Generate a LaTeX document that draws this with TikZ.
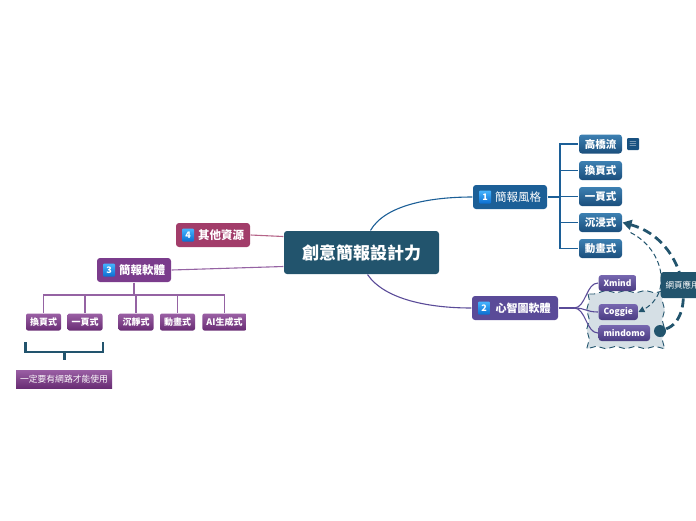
\documentclass[tikz,border=0pt]{standalone}
\usepackage{fontspec}
\setmainfont{Noto Sans CJK TC}
\usetikzlibrary{positioning,arrows.meta,decorations.pathmorphing}
\definecolor{rootc}{HTML}{22546D}
\definecolor{bluec}{HTML}{1C5F97}
\definecolor{bluel}{HTML}{3D80B2}
\definecolor{blued}{HTML}{1A4E7C}
\definecolor{violc}{HTML}{5A4B98}
\definecolor{violl}{HTML}{7767B0}
\definecolor{viold}{HTML}{4A3C82}
\definecolor{plumc}{HTML}{7B3C8C}
\definecolor{pluml}{HTML}{9A5FA4}
\definecolor{plumd}{HTML}{692D74}
\definecolor{rosec}{HTML}{A23D6A}
\definecolor{badgel}{HTML}{45B4FF}
\definecolor{badged}{HTML}{0B6ED0}
\definecolor{cloudc}{HTML}{D5DFE5}
\tikzset{
  box/.style={rounded corners=3pt,inner sep=0pt,text=white,align=center},
  rootbox/.style={box,fill=rootc,minimum width=155,minimum height=43,font=\bfseries\fontsize{17}{17}\selectfont},
  mainbox/.style={box,inner xsep=6pt,minimum height=24,font=\bfseries\fontsize{11.5}{11.5}\selectfont},
  kidblue/.style={box,top color=bluel,bottom color=blued,minimum width=43,minimum height=19,font=\bfseries\fontsize{10.5}{10.5}\selectfont},
  kidviol/.style={box,anchor=west,inner xsep=5pt,top color=violl,bottom color=viold,minimum height=16,font=\bfseries\fontsize{8.5}{8.5}\selectfont},
  kidplum/.style={box,rounded corners=2pt,inner xsep=4pt,top color=pluml,bottom color=plumd,minimum height=17,font=\bfseries\fontsize{9}{9}\selectfont},
  badge/.style={box,rounded corners=1pt,top color=badgel,bottom color=badged,minimum width=12,minimum height=13,font=\bfseries\fontsize{9}{9}\selectfont},
  rel/.style={rootc,dash pattern=on 9pt off 5pt,line width=2.8pt,-{Triangle[length=9pt,width=10pt]}},
  relthin/.style={rootc,dash pattern=on 5pt off 3pt,line width=1pt,-{Triangle[length=6pt,width=6pt]}},
}
\begin{document}
\begin{tikzpicture}[x=1pt,y=-1pt,line width=1.1pt]
\clip (0,0) rectangle (696,520);
% cloud round the online tools
\path[decorate,decoration={snake,amplitude=1.3pt,segment length=19.5pt},fill=cloudc,draw=rootc,dash pattern=on 6pt off 4pt,line width=0.9pt] (588,294) rectangle (666,347);
\node[rootbox] (center) at (361.5,252.5) {創意簡報設計力};
\node[mainbox,fill=bluec,font=\fontsize{11.5}{11.5}\selectfont] (style1) at (510,197) {\hspace*{16pt}簡報風格};
\node[mainbox,fill=violc,inner xsep=7.5pt,font=\bfseries\fontsize{11}{11}\selectfont] (mind) at (515,308) {\hspace*{16pt}心智圖軟體};
\node[mainbox,fill=plumc] (soft) at (134,270) {\hspace*{16pt}簡報軟體};
\node[mainbox,fill=rosec] (res) at (213,235) {\hspace*{16pt}其他資源};
\node[badge,right=6pt of style1.west] (b1) {1};
\node[badge,right=6pt of mind.west] (b2) {2};
\node[badge,right=6pt of soft.west] (b3) {3};
\node[badge,right=6pt of res.west] (b4) {4};
\node[kidblue] (k1) at (600.5,144) {高橋流};
\node[kidblue] (k2) at (600.5,170.5) {換頁式};
\node[kidblue] (k3) at (600.5,196.5) {一頁式};
\node[kidblue] (k4) at (600.5,222.5) {沉浸式};
\node[kidblue] (k5) at (600.5,248.5) {動畫式};
\node[box,rounded corners=1pt,fill=bluec!85!black,minimum size=12,right=4pt of k1] (note) {$\equiv$};
\node[kidviol] (xm) at (598,283) {Xmind};
\node[kidviol] (cg) at (598,312) {Coggie};
\node[kidviol] (mm) at (598,333) {mindomo};
\node[kidplum] (p1) at (43.5,322) {換頁式};
\node[kidplum] (p2) at (85,322) {一頁式};
\node[kidplum] (p3) at (136,322) {沉靜式};
\node[kidplum] (p4) at (177.5,322) {動畫式};
\node[kidplum] (p5) at (224.5,322) {AI生成式};
\node[box,rounded corners=0pt,inner xsep=4pt,top color=pluml,bottom color=plumd,minimum height=18,font=\fontsize{8.8}{8.8}\selectfont] (sum) at (64,379) {一定要有網路才能使用};
\node[circle,fill=rootc,minimum size=12,inner sep=0pt] (dot) at (660,331) {};
% main branches
\draw[bluec] ([xshift=9]center.north) .. controls (385,205) and (430,197) .. (style1.west);
\draw[violc] ([xshift=6]center.south) .. controls (385,300) and (430,308) .. (mind.west);
\draw[rosec!80] ([yshift=16]center.west) -- (res.east);
\draw[plumc!80] ([yshift=-14]center.west) -- (soft.east);
\coordinate (t1) at (560,197);
\draw[bluec,line width=1.6pt] (style1.east) -- (t1);
\foreach \k in {1,...,5} \draw[bluec] (t1) |- (k\k.west);
\coordinate (t2) at (574,308);
\draw[violc] (mind.east) -- (t2);
\foreach \k in {xm,cg,mm} \draw[violc] (t2) .. controls +(12,0) and +(-12,0) .. (\k.west);
\coordinate (t3) at (134,295);
\draw[plumc!80] (soft.south) -- (t3);
\foreach \k in {1,...,5} \draw[plumc!80] (t3) -| (p\k.north);
\draw[rootc,line width=2.6pt] ([yshift=-11]p1.south west) -- ++(0,10) -| ([yshift=-11]p2.south east);
\coordinate (brk) at (64.5,352);
\draw[rootc,line width=2.6pt] (brk) -- ++(0,8);
% relationships
\draw[rel] (dot) .. controls (697,318) and (687,240) .. (k4.east);
\draw[relthin] ([xshift=8]k4.south east) .. controls (665,250) and (672,295) .. (cg.east);
\node[box,anchor=west,inner xsep=5pt,fill=rootc,minimum height=26,font=\fontsize{8.5}{8.5}\selectfont] (web) at (660,285) {網頁應用};
\end{tikzpicture}
\end{document}
